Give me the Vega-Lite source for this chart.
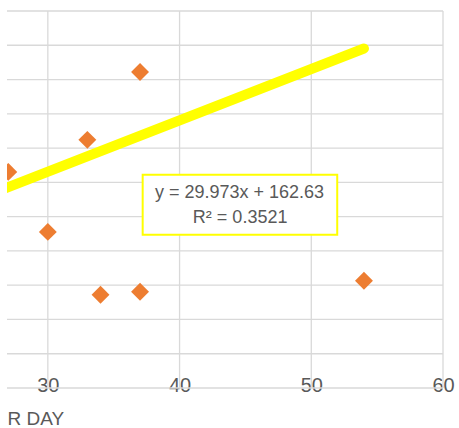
{
  "$schema": "https://vega.github.io/schema/vega-lite/v6.json",
  "autosize": "none",
  "width": 436,
  "height": 377,
  "padding": {"left": 7, "top": 11, "right": 16, "bottom": 40},
  "background": "white",
  "config": {"view": {"stroke": null}, "font": "Liberation Sans"},
  "datasets": {
    "hgrid": [
      {"y": -200}, {"y": 0}, {"y": 200}, {"y": 400}, {"y": 600}, {"y": 800},
      {"y": 1000}, {"y": 1200}, {"y": 1400}, {"y": 1600}, {"y": 1800}, {"y": 2000}
    ],
    "vgrid": [
      {"x": 30}, {"x": 40}, {"x": 50}, {"x": 60}
    ],
    "points": [
      {"x": 27.0, "y": 1061},
      {"x": 33, "y": 1248},
      {"x": 37, "y": 1644},
      {"x": 30, "y": 711},
      {"x": 34, "y": 344},
      {"x": 37, "y": 362},
      {"x": 54, "y": 426}
    ],
    "trend": [
      {"x": 20, "y": 762.1},
      {"x": 54, "y": 1781.2}
    ],
    "box": [
      {"x": 37.2, "x2": 51.97, "y": 1044, "y2": 694}
    ],
    "labels": [
      {"x": 44.55, "y": 939, "t": "y = 29.973x + 162.63"},
      {"x": 44.6, "y": 793, "t": "R² = 0.3521"}
    ]
  },
  "layer": [
    {
      "data": {"name": "hgrid"},
      "mark": {"type": "rule", "color": "#D9D9D9", "strokeWidth": 1.3},
      "encoding": {
        "y": {
          "field": "y", "type": "quantitative",
          "scale": {"domain": [-200, 2000], "nice": false, "zero": false},
          "axis": null
        }
      }
    },
    {
      "data": {"name": "vgrid"},
      "mark": {"type": "rule", "color": "#D9D9D9", "strokeWidth": 1.3},
      "encoding": {
        "x": {
          "field": "x", "type": "quantitative",
          "scale": {"domain": [26.9, 60], "nice": false, "zero": false},
          "axis": {
            "values": [30, 40, 50, 60],
            "grid": false, "domain": false, "ticks": false, "tickSize": 0,
            "labelFont": "Liberation Sans", "labelFontSize": 20, "labelColor": "#595959",
            "labelBaseline": "middle", "labelPadding": -3, "labelFlush": false, "labelOverlap": false,
            "title": "R DAY", "titleFont": "Liberation Sans", "titleFontSize": 19,
            "titleFontWeight": "normal", "titleColor": "#595959",
            "titleAnchor": "start", "titleAlign": "left", "titleX": 0,
            "titleBaseline": "alphabetic", "titleY": 36
          }
        }
      }
    },
    {
      "data": {"name": "points"},
      "mark": {"type": "point", "shape": "diamond", "filled": true, "color": "#ED7D31", "opacity": 1, "size": 320, "clip": true},
      "encoding": {
        "x": {"field": "x", "type": "quantitative"},
        "y": {"field": "y", "type": "quantitative"}
      }
    },
    {
      "data": {"name": "trend"},
      "mark": {"type": "line", "color": "#FFFF00", "strokeWidth": 10, "strokeCap": "round", "clip": true},
      "encoding": {
        "x": {"field": "x", "type": "quantitative"},
        "y": {"field": "y", "type": "quantitative"}
      }
    },
    {
      "data": {"name": "box"},
      "mark": {"type": "rect", "fill": "white", "stroke": "#FFFF00", "strokeWidth": 2},
      "encoding": {
        "x": {"field": "x", "type": "quantitative"},
        "x2": {"field": "x2"},
        "y": {"field": "y", "type": "quantitative"},
        "y2": {"field": "y2"}
      }
    },
    {
      "data": {"name": "labels"},
      "mark": {"type": "text", "font": "Liberation Sans", "fontSize": 18, "color": "#595959", "align": "center", "baseline": "middle"},
      "encoding": {
        "x": {"field": "x", "type": "quantitative"},
        "y": {"field": "y", "type": "quantitative"},
        "text": {"field": "t"}
      }
    }
  ]
}
